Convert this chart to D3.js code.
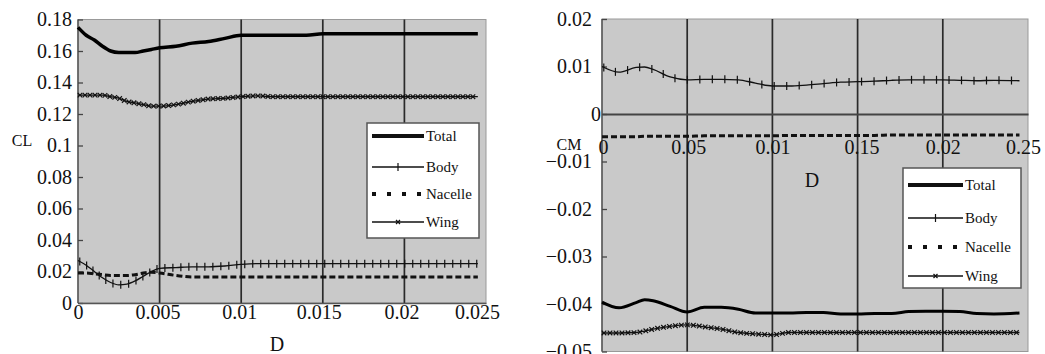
<!DOCTYPE html>
<html>
<head>
<meta charset="utf-8">
<script src="https://cdn.jsdelivr.net/npm/d3@7"></script>
<style>
body { margin: 0; background: #fff; }
svg { display: block; }
svg text { font-family: "Liberation Serif", "Times New Roman", serif; }
</style>
</head>
<body>
<svg id="chart" width="1045" height="354"></svg>
<script>
// ---- left panel: CL vs D ----
var leftD = [0, 0.0005, 0.001, 0.0015, 0.002, 0.0025, 0.003, 0.0035, 0.004, 0.0045, 0.005, 0.006, 0.007, 0.008, 0.009,
             0.01, 0.011, 0.012, 0.013, 0.014, 0.015, 0.016, 0.018, 0.02, 0.022, 0.024, 0.0245];
var leftTotal = [0.175, 0.170, 0.167, 0.163, 0.160, 0.159, 0.159, 0.159, 0.160, 0.161, 0.162, 0.163, 0.165, 0.166, 0.168,
                 0.170, 0.170, 0.170, 0.170, 0.170, 0.171, 0.171, 0.171, 0.171, 0.171, 0.171, 0.171];
var leftBody = [0.027, 0.024, 0.020, 0.016, 0.013, 0.0115, 0.012, 0.014, 0.017, 0.020, 0.022, 0.0225, 0.023, 0.023, 0.0235,
                0.0245, 0.025, 0.025, 0.025, 0.025, 0.025, 0.025, 0.025, 0.025, 0.025, 0.025, 0.025];
var leftNacelle = [0.019, 0.019, 0.0185, 0.018, 0.0175, 0.0175, 0.0175, 0.018, 0.019, 0.0195, 0.019, 0.0175, 0.0165, 0.0165, 0.0165,
                   0.0165, 0.0165, 0.0165, 0.0165, 0.0165, 0.0165, 0.0165, 0.0165, 0.0165, 0.0165, 0.0165, 0.0165];
var leftWing = [0.132, 0.132, 0.132, 0.132, 0.131, 0.130, 0.128, 0.127, 0.126, 0.125, 0.125, 0.126, 0.128, 0.1295, 0.130,
                0.131, 0.1315, 0.131, 0.131, 0.131, 0.131, 0.131, 0.131, 0.131, 0.131, 0.131, 0.131];
var leftXTicks = [0, 0.005, 0.01, 0.015, 0.02, 0.025];
var leftXLabels = ["0", "0.005", "0.01", "0.015", "0.02", "0.025"];
var leftYTicks = [0, 0.02, 0.04, 0.06, 0.08, 0.1, 0.12, 0.14, 0.16, 0.18];
var leftYLabels = ["0", "0.02", "0.04", "0.06", "0.08", "0.1", "0.12", "0.14", "0.16", "0.18"];

// ---- right panel: CM vs D ----
var rightD = [0, 0.01, 0.02, 0.025, 0.03, 0.04, 0.05, 0.06, 0.07, 0.08, 0.09, 0.1, 0.11, 0.12, 0.13,
              0.14, 0.15, 0.16, 0.17, 0.18, 0.19, 0.2, 0.21, 0.22, 0.23, 0.245];
var rightTotal = [-0.0396, -0.0408, -0.0397, -0.0391, -0.0393, -0.0405, -0.0417, -0.0407, -0.0407, -0.0411, -0.0419, -0.0419, -0.0419,
                  -0.0418, -0.0418, -0.0421, -0.0421, -0.042, -0.042, -0.0416, -0.0415, -0.0415, -0.0416, -0.042, -0.0421, -0.0419];
var rightBody = [0.0100, 0.0088, 0.0098, 0.0099, 0.0094, 0.0078, 0.0072, 0.0073, 0.0073, 0.0072, 0.0065, 0.0059, 0.0059,
                 0.0061, 0.0064, 0.0067, 0.0068, 0.0069, 0.0071, 0.0072, 0.0072, 0.0072, 0.0071, 0.0070, 0.0071, 0.0070];
var rightNacelle = [-0.0048, -0.0048, -0.0048, -0.0047, -0.0047, -0.0047, -0.0047, -0.0046, -0.0046, -0.0046, -0.0046, -0.0046, -0.0045,
                    -0.0045, -0.0045, -0.0045, -0.0045, -0.0045, -0.0044, -0.0044, -0.0044, -0.0044, -0.0044, -0.0044, -0.0044, -0.0044];
var rightWing = [-0.0461, -0.0461, -0.046, -0.0457, -0.0453, -0.0447, -0.0444, -0.0448, -0.0453, -0.046, -0.0463, -0.0465, -0.046,
                 -0.046, -0.046, -0.046, -0.046, -0.046, -0.046, -0.046, -0.046, -0.046, -0.046, -0.046, -0.046, -0.046];
var rightXTicks = [0, 0.05, 0.1, 0.15, 0.2, 0.25];
var rightXLabels = ["0", "0.05", "0.01", "0.15", "0.02", "0.25"];   // as printed on the original
var rightYTicks = [-0.05, -0.04, -0.03, -0.02, -0.01, 0, 0.01, 0.02];
var rightYLabels = ["\u22120.05", "\u22120.04", "\u22120.03", "\u22120.02", "\u22120.01", "0", "0.01", "0.02"];

var legendNames = ["Total", "Body", "Nacelle", "Wing"];

var svg = d3.select("#chart");
var serif = "Liberation Serif, Times New Roman, serif";

function zip(xs, ys) { return xs.map(function(v, i) { return [v, ys[i]]; }); }

// markers spaced along a drawn path
function addMarkers(g, node, step, kind, size) {
    var len = node.getTotalLength();
    var pts = [];
    for (var s = 2; s < len; s += step) pts.push(node.getPointAtLength(s));
    g.selectAll(null).data(pts).enter().append("path")
        .attr("transform", function(p) { return "translate(" + p.x + "," + p.y + ")"; })
        .attr("d", kind == "plus" ? "M0," + (-size) + "V" + size
                                  : "M" + (-size) + "," + (-size) + "L" + size + "," + size + "M" + (-size) + "," + size + "L" + size + "," + (-size))
        .attr("stroke", "#111").attr("stroke-width", 1.2).attr("fill", "none");
}

function drawPanel(o) {
    var g = svg.append("g");
    var x = o.x, y = o.y;
    var x0 = x.range()[0], x1 = x.range()[1];
    var yTop = y.range()[1], yBot = Math.min(y.range()[0], 360);

    g.append("rect").attr("x", x0).attr("y", yTop).attr("width", x1 - x0).attr("height", yBot - yTop)
        .attr("fill", "#c9c9c9").attr("stroke", "#999").attr("stroke-width", 1);

    // vertical grid lines
    g.selectAll(".vg").data(o.xTicks.slice(1, -1)).enter().append("line")
        .attr("x1", function(d) { return x(d); }).attr("x2", function(d) { return x(d); })
        .attr("y1", yTop).attr("y2", yBot)
        .attr("stroke", "#2a2a2a").attr("stroke-width", 1.7);

    // left axis line
    g.append("line").attr("x1", x0).attr("x2", x0).attr("y1", yTop).attr("y2", yBot)
        .attr("stroke", "#555").attr("stroke-width", 1.5);

    // y axis
    var ya = g.append("g").attr("transform", "translate(" + x0 + ",0)")
        .call(d3.axisLeft(y).tickValues(o.yTicks).tickFormat(function(d, i) { return o.yLabels[i]; })
              .tickSizeInner(-5).tickSizeOuter(0).tickPadding(o.yPad));
    ya.attr("font-family", serif).attr("font-size", 20);
    ya.select(".domain").remove();
    ya.selectAll(".tick line").attr("stroke", "#444").attr("stroke-width", 1.3);
    ya.selectAll("text").attr("fill", "#111");
    if (o.zeroShift) ya.selectAll(".tick").filter(function(d) { return d === 0; }).select("text").attr("dx", o.zeroShift);

    // x axis
    var xa = g.append("g").attr("transform", "translate(0," + y(o.xAxisAt) + ")")
        .call(d3.axisBottom(x).tickValues(o.xTicks).tickFormat(function(d, i) { return o.xLabels[i]; })
              .tickSizeInner(0).tickSizeOuter(0).tickPadding(o.xPad));
    xa.attr("font-family", serif).attr("font-size", 20);
    xa.select(".domain").attr("stroke", o.xAxisColor).attr("stroke-width", o.xAxisWidth);
    xa.selectAll("text").attr("fill", "#111").attr("dx", function(d, i) { return o.xShift[i]; });

    var line = d3.line().x(function(d) { return x(d[0]); }).y(function(d) { return y(d[1]); }).curve(d3.curveMonotoneX);

    var s = o.series;
    g.append("path").datum(zip(o.d, s.nacelle)).attr("d", line).attr("fill", "none")
        .attr("stroke", "#111").attr("stroke-width", 3).attr("stroke-dasharray", "6,3");
    var wing = g.append("path").datum(zip(o.d, s.wing)).attr("d", line).attr("fill", "none")
        .attr("stroke", "#111").attr("stroke-width", 1.3);
    addMarkers(g, wing.node(), o.wingStep, "x", 2.3);
    var body = g.append("path").datum(zip(o.d, s.body)).attr("d", line).attr("fill", "none")
        .attr("stroke", "#111").attr("stroke-width", 1.3);
    addMarkers(g, body.node(), o.bodyStep, "plus", 4);
    g.append("path").datum(zip(o.d, s.total)).attr("d", line).attr("fill", "none")
        .attr("stroke", "#000").attr("stroke-width", o.totalWidth);

    // legend
    var L = o.legend;
    var lg = g.append("g");
    lg.append("rect").attr("x", L.x).attr("y", L.y).attr("width", L.w).attr("height", L.h)
        .attr("fill", "#fff").attr("stroke", "#555").attr("stroke-width", 1.5);
    legendNames.forEach(function(name, i) {
        var ly = L.rows[i];
        var ln = lg.append("line").attr("x1", L.lx0).attr("x2", L.lx1).attr("y1", ly).attr("y2", ly).attr("stroke", "#111");
        if (name == "Total") ln.attr("stroke-width", 4);
        else if (name == "Nacelle") ln.attr("stroke-width", 4).attr("stroke-dasharray", "4,11");
        else ln.attr("stroke-width", 1.3);
        var mx = (L.lx0 + L.lx1) / 2;
        if (name == "Body") lg.append("path").attr("d", "M" + mx + "," + (ly - 4) + "V" + (ly + 4)).attr("stroke", "#111").attr("stroke-width", 1.2);
        if (name == "Wing") lg.append("path").attr("d", "M" + (mx - 2) + "," + (ly - 2) + "l4,4M" + (mx - 2) + "," + (ly + 2) + "l4,-4")
            .attr("stroke", "#111").attr("stroke-width", 1.2);
        lg.append("text").attr("x", L.lx1 + 2).attr("y", ly).attr("dy", "0.35em")
            .attr("font-size", 15).attr("fill", "#111").text(name);
    });

    g.append("text").attr("x", o.yTitle[0]).attr("y", o.yTitle[1]).attr("dy", "0.35em")
        .attr("text-anchor", "middle").attr("font-size", 16).attr("fill", "#111").text(o.yTitle[2]);
    g.append("text").attr("x", o.xTitle[0]).attr("y", o.xTitle[1]).attr("dy", "0.35em")
        .attr("text-anchor", "middle").attr("font-size", 20).attr("fill", "#111").text("D");
}

drawPanel({
    x: d3.scaleLinear().domain([0, 0.025]).range([78, 486]),
    y: d3.scaleLinear().domain([0, 0.18]).range([303, 19.5]),
    d: leftD,
    series: { total: leftTotal, body: leftBody, nacelle: leftNacelle, wing: leftWing },
    xTicks: leftXTicks, xLabels: leftXLabels, yTicks: leftYTicks, yLabels: leftYLabels,
    yPad: 6, xPad: 2, xShift: [0, -2, -2, -4, -3, -9], xAxisAt: 0, xAxisColor: "#555", xAxisWidth: 1.5,
    totalWidth: 3.5, bodyStep: 8, wingStep: 5,
    legend: { x: 367, y: 123, w: 112, h: 115, lx0: 372, lx1: 424, rows: [136, 167, 194, 222] },
    yTitle: [22, 140, "CL"], xTitle: [277, 344]
});

drawPanel({
    x: d3.scaleLinear().domain([0, 0.25]).range([602, 1028]),
    y: d3.scaleLinear().domain([-0.05, 0.02]).range([351.5, 19]),
    d: rightD,
    series: { total: rightTotal, body: rightBody, nacelle: rightNacelle, wing: rightWing },
    xTicks: rightXTicks, xLabels: rightXLabels, yTicks: rightYTicks, yLabels: rightYLabels,
    yPad: 10, zeroShift: 9, xPad: 26, xShift: [1, 1, 0, 4, 0, -5], xAxisAt: 0, xAxisColor: "#444", xAxisWidth: 2,
    totalWidth: 3, bodyStep: 12.5, wingStep: 6,
    legend: { x: 903, y: 168, w: 118, h: 120, lx0: 908, lx1: 963, rows: [185, 218, 247, 276] },
    yTitle: [569, 144, "CM"], xTitle: [812, 180]
});
</script>
</body>
</html>
